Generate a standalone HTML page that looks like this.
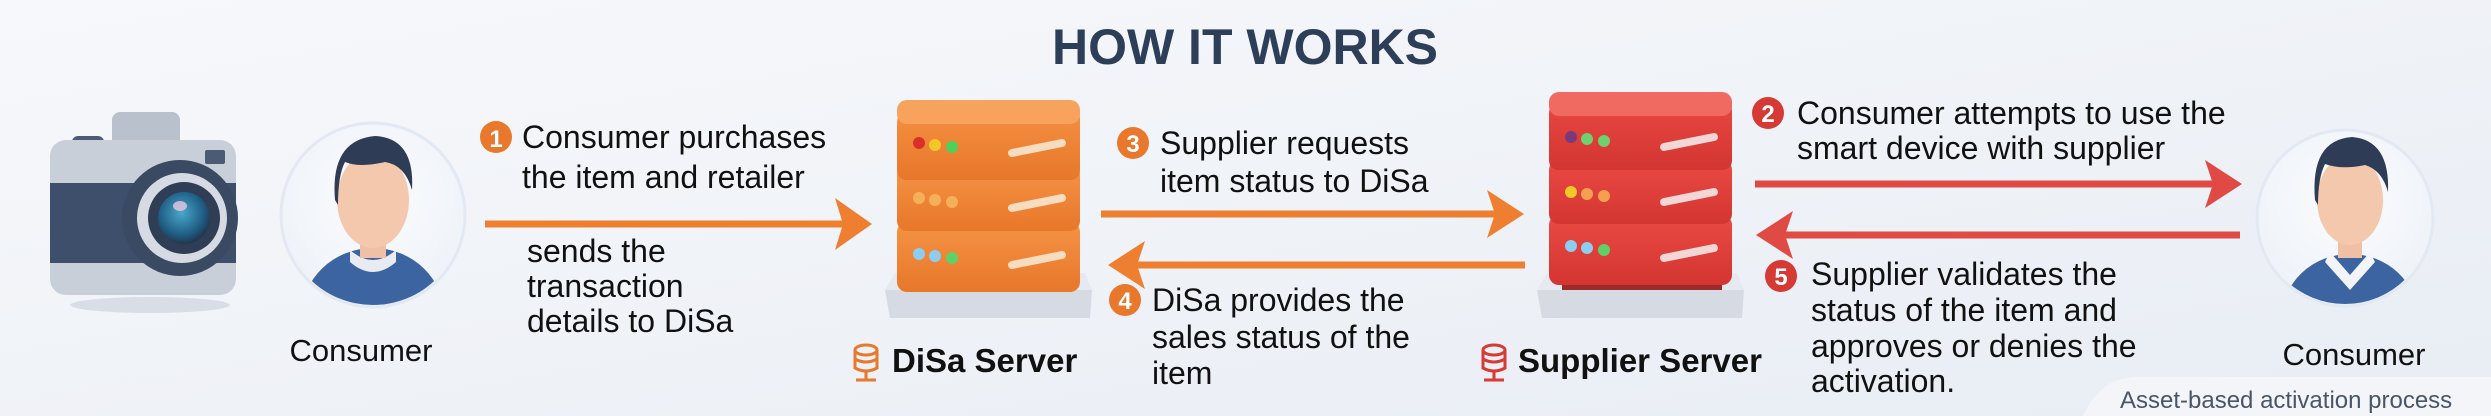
<!DOCTYPE html>
<html><head><meta charset="utf-8"><style>
html,body{margin:0;padding:0;width:2491px;height:416px;overflow:hidden;}
svg{display:block;font-family:"Liberation Sans",sans-serif;}
</style></head><body>
<svg width="2491" height="416" viewBox="0 0 2491 416" xmlns="http://www.w3.org/2000/svg">
<defs>
<linearGradient id="bg" x1="0" y1="0" x2="1" y2="1"><stop offset="0" stop-color="#f7f8fb"/><stop offset="1" stop-color="#e8edf4"/></linearGradient>
<linearGradient id="of" x1="0" y1="0" x2="0" y2="1"><stop offset="0" stop-color="#f59345"/><stop offset="1" stop-color="#e8772a"/></linearGradient>
<linearGradient id="rf" x1="0" y1="0" x2="0" y2="1"><stop offset="0" stop-color="#ea4a44"/><stop offset="1" stop-color="#d33530"/></linearGradient>
<radialGradient id="pc" cx="0.5" cy="0.4" r="0.6"><stop offset="0" stop-color="#fbfcfe"/><stop offset="1" stop-color="#eef2f8"/></radialGradient>
<radialGradient id="lens" cx="0.45" cy="0.4" r="0.6"><stop offset="0" stop-color="#4aa7c9"/><stop offset="0.7" stop-color="#1f5f86"/><stop offset="1" stop-color="#22364f"/></radialGradient>
<clipPath id="c1"><circle cx="373" cy="215" r="90"/></clipPath>
<clipPath id="c2"><circle cx="2345" cy="218" r="86"/></clipPath>
</defs>
<rect width="2491" height="416" fill="url(#bg)"/>

<text x="1245" y="64" text-anchor="middle" font-size="50" font-weight="bold" fill="#2d3e58">HOW IT WORKS</text>

<!-- camera -->
<ellipse cx="150" cy="305" rx="80" ry="8" fill="#d9dee6"/>
<rect x="112" y="112" width="68" height="40" rx="8" fill="#b9c1cd"/>
<rect x="72" y="136" width="32" height="16" rx="6" fill="#4a5b73"/>
<rect x="50" y="140" width="186" height="155" rx="16" fill="#c9cfd8"/>
<rect x="50" y="183" width="186" height="80" fill="#3e4f6b"/>
<rect x="205" y="150" width="20" height="14" rx="2" fill="#4a5b73"/>
<circle cx="180" cy="218" r="58" fill="#3a4a63"/>
<circle cx="182" cy="218" r="45" fill="#d6dbe3"/>
<circle cx="184" cy="218" r="36" fill="#2f3d55"/>
<circle cx="184" cy="218" r="26" fill="url(#lens)"/>
<ellipse cx="180" cy="206" rx="7" ry="5" fill="#e8c8e0" opacity="0.8"/>

<!-- consumer left -->
<circle cx="373" cy="215" r="92" fill="url(#pc)" stroke="#e3e9f2" stroke-width="3"/>
<g clip-path="url(#c1)">
<ellipse cx="373" cy="318" rx="72" ry="70" fill="#3b64a0"/>
<path d="M350 250 Q373 270 396 250 L396 262 Q373 282 350 262Z" fill="#e8ecf2"/>
</g>
<rect x="360" y="230" width="26" height="28" fill="#efc0a6"/>
<ellipse cx="373" cy="200" rx="36" ry="48" fill="#f3c8ad"/>
<path d="M335 200 Q330 140 375 136 Q415 138 412 190 Q405 165 385 162 Q360 168 345 162 Q338 175 338 205Z" fill="#2e3c55"/>
<text x="361" y="361" text-anchor="middle" font-size="31" fill="#111">Consumer</text>

<!-- step 1 -->
<circle cx="496" cy="137" r="16" fill="#e8782c"/>
<text x="496" y="147" text-anchor="middle" font-size="24" font-weight="bold" fill="#fff">1</text>
<text font-size="32" fill="#111"><tspan x="522" y="148">Consumer purchases</tspan><tspan x="522" y="188">the item and retailer</tspan></text>
<line x1="485" y1="224" x2="850" y2="224" stroke="#ef7f30" stroke-width="7"/>
<polygon points="872,224 835,198 843,224 835,250" fill="#ef7f30"/>
<text font-size="32" fill="#111"><tspan x="527" y="262">sends the</tspan><tspan x="527" y="297">transaction</tspan><tspan x="527" y="332">details to DiSa</tspan></text>

<!-- DiSa server -->
<g>
<path d="M885 290 L895 273 L1085 273 L1092 290 L1090 318 L890 318Z" fill="#e6e9ef"/>
<path d="M885 290 L1092 290 L1090 318 L890 318Z" fill="#d6dbe3"/>
<rect x="912" y="172" width="160" height="120" fill="#d6611e"/>
<rect x="897" y="222" width="183" height="70" rx="10" fill="url(#of)"/>
<rect x="897" y="165" width="183" height="66" rx="10" fill="url(#of)"/>
<path d="M897 125 Q897 100 925 100 L1065 100 Q1080 100 1080 120 L1080 170 Q1080 178 1072 180 L905 180 Q897 178 897 170Z" fill="url(#of)"/>
<rect x="897" y="100" width="183" height="24" rx="10" fill="#f7a25d"/>
<circle cx="919" cy="143" r="6" fill="#d9312a"/><circle cx="935" cy="145" r="6" fill="#f0c828"/><circle cx="952" cy="147" r="6" fill="#4ed05a"/>
<circle cx="919" cy="198" r="6" fill="#f5b15a"/><circle cx="935" cy="200" r="6" fill="#f5b15a"/><circle cx="952" cy="202" r="6" fill="#f5b15a"/>
<circle cx="919" cy="254" r="6" fill="#8dcdf0"/><circle cx="935" cy="256" r="6" fill="#8dcdf0"/><circle cx="952" cy="258" r="6" fill="#5fd068"/>
<line x1="1012" y1="153" x2="1062" y2="143" stroke="#f8dcc0" stroke-width="8" stroke-linecap="round"/>
<line x1="1012" y1="208" x2="1062" y2="198" stroke="#f8dcc0" stroke-width="8" stroke-linecap="round"/>
<line x1="1012" y1="265" x2="1062" y2="255" stroke="#f8dcc0" stroke-width="8" stroke-linecap="round"/>
</g>
<g fill="none" stroke="#e8782c" stroke-width="3"><ellipse cx="866" cy="350" rx="11" ry="5"/><path d="M855 350 V368 Q866 374 877 368 V350 M855 359 Q866 365 877 359"/><path d="M866 372 V380 M856 380 H876"/></g>
<text x="892" y="372" font-size="33" font-weight="bold" fill="#111">DiSa Server</text>

<!-- step 3 -->
<circle cx="1133" cy="143" r="16" fill="#e8782c"/>
<text x="1133" y="152" text-anchor="middle" font-size="24" font-weight="bold" fill="#fff">3</text>
<text font-size="32" fill="#111"><tspan x="1160" y="154">Supplier requests</tspan><tspan x="1160" y="192">item status to DiSa</tspan></text>
<line x1="1101" y1="214" x2="1500" y2="214" stroke="#ef7f30" stroke-width="7"/>
<polygon points="1524,214 1487,190 1495,214 1487,238" fill="#ef7f30"/>
<line x1="1525" y1="265" x2="1130" y2="265" stroke="#ef7f30" stroke-width="7"/>
<polygon points="1108,265 1145,241 1137,265 1145,289" fill="#ef7f30"/>
<circle cx="1125" cy="300" r="16" fill="#e8782c"/>
<text x="1125" y="309" text-anchor="middle" font-size="24" font-weight="bold" fill="#fff">4</text>
<text font-size="32" fill="#111"><tspan x="1152" y="311">DiSa provides the</tspan><tspan x="1152" y="348">sales status of the</tspan><tspan x="1152" y="384">item</tspan></text>

<!-- Supplier server -->
<g>
<path d="M1537 290 L1547 273 L1737 273 L1744 290 L1742 318 L1542 318Z" fill="#e6e9ef"/>
<path d="M1537 290 L1744 290 L1742 318 L1542 318Z" fill="#d6dbe3"/>
<rect x="1562" y="162" width="160" height="128" fill="#9c2a2a"/>
<rect x="1549" y="215" width="183" height="70" rx="10" fill="url(#rf)"/>
<rect x="1549" y="160" width="183" height="64" rx="10" fill="url(#rf)"/>
<path d="M1549 115 Q1549 92 1577 92 L1717 92 Q1732 92 1732 112 L1732 160 Q1732 168 1724 170 L1557 170 Q1549 168 1549 160Z" fill="url(#rf)"/>
<rect x="1549" y="92" width="183" height="24" rx="10" fill="#f06a62"/>
<circle cx="1571" cy="137" r="6" fill="#7a3a7a"/><circle cx="1587" cy="139" r="6" fill="#6fd070"/><circle cx="1604" cy="141" r="6" fill="#6fd070"/>
<circle cx="1571" cy="192" r="6" fill="#f0c828"/><circle cx="1587" cy="194" r="6" fill="#f5a050"/><circle cx="1604" cy="196" r="6" fill="#f5a050"/>
<circle cx="1571" cy="246" r="6" fill="#8dcdf0"/><circle cx="1587" cy="248" r="6" fill="#8dcdf0"/><circle cx="1604" cy="250" r="6" fill="#5fd068"/>
<line x1="1664" y1="147" x2="1714" y2="137" stroke="#f3d6d6" stroke-width="8" stroke-linecap="round"/>
<line x1="1664" y1="202" x2="1714" y2="192" stroke="#f3d6d6" stroke-width="8" stroke-linecap="round"/>
<line x1="1664" y1="258" x2="1714" y2="248" stroke="#f3d6d6" stroke-width="8" stroke-linecap="round"/>
</g>
<g fill="none" stroke="#d63a34" stroke-width="3"><ellipse cx="1494" cy="350" rx="11" ry="5"/><path d="M1483 350 V368 Q1494 374 1505 368 V350 M1483 359 Q1494 365 1505 359"/><path d="M1494 372 V380 M1484 380 H1504"/></g>
<text x="1518" y="372" font-size="33" font-weight="bold" fill="#111">Supplier Server</text>

<!-- step 2 -->
<circle cx="1768" cy="113" r="16" fill="#d63a34"/>
<text x="1768" y="122" text-anchor="middle" font-size="24" font-weight="bold" fill="#fff">2</text>
<text font-size="32" fill="#111"><tspan x="1797" y="124">Consumer attempts to use the</tspan><tspan x="1797" y="159">smart device with supplier</tspan></text>
<line x1="1755" y1="184" x2="2220" y2="184" stroke="#df4a44" stroke-width="7"/>
<polygon points="2242,184 2205,160 2213,184 2205,208" fill="#df4a44"/>
<line x1="2240" y1="235" x2="1778" y2="235" stroke="#df4a44" stroke-width="7"/>
<polygon points="1756,235 1793,211 1785,235 1793,259" fill="#df4a44"/>
<circle cx="1781" cy="276" r="16" fill="#d63a34"/>
<text x="1781" y="285" text-anchor="middle" font-size="24" font-weight="bold" fill="#fff">5</text>
<text font-size="32" fill="#111"><tspan x="1811" y="285">Supplier validates the</tspan><tspan x="1811" y="321">status of the item and</tspan><tspan x="1811" y="357">approves or denies the</tspan><tspan x="1811" y="392">activation.</tspan></text>

<!-- consumer right -->
<circle cx="2345" cy="218" r="88" fill="url(#pc)" stroke="#e3e9f2" stroke-width="3"/>
<g clip-path="url(#c2)">
<ellipse cx="2350" cy="318" rx="68" ry="64" fill="#3b64a0"/>
<path d="M2330 252 L2350 275 L2370 252 L2375 262 L2350 290 L2325 262Z" fill="#f2f4f7"/>
</g>
<rect x="2338" y="232" width="24" height="26" fill="#efc0a6"/>
<ellipse cx="2350" cy="200" rx="33" ry="45" fill="#f3c8ad"/>
<path d="M2315 200 Q2310 140 2352 137 Q2390 140 2388 192 Q2382 170 2365 165 Q2342 170 2325 164 Q2318 178 2318 205Z" fill="#2e3c55"/>
<text x="2354" y="365" text-anchor="middle" font-size="31" fill="#111">Consumer</text>

<!-- tab -->
<path d="M2083 416 Q2100 378 2135 377 L2491 377 L2491 416Z" fill="#f3f5f9"/>
<text x="2120" y="408" font-size="24" fill="#4a5568">Asset-based activation process</text>
</svg>
</body></html>
